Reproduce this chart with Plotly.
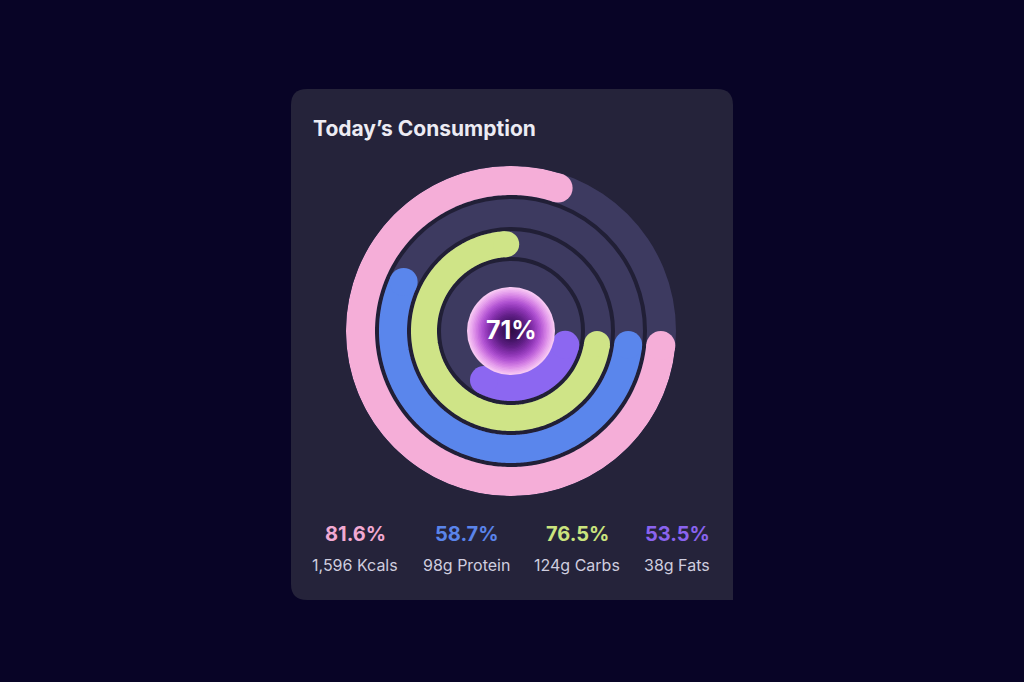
import numpy as np
import plotly.graph_objects as go

# ---------------- data ----------------
categories = ["Kcals", "Protein", "Carbs", "Fats"]
pct_labels = [81.6, 58.7, 76.5, 53.5]          # printed percentages
arc_sweep_pct = [81.6, 58.7, 76.5, 37.0]       # sweep of each ring as drawn in the picture
amount_labels = ["1,596 Kcals", "98g Protein", "124g Carbs", "38g Fats"]
center_value = "71%"
title_text = "Today’s Consumption"

# ---------------- style ----------------
W, H = 1024, 682
BG = "#080426"
CARD = "#25233a"
TRACK = "#3d3a60"
SEP = "#211f36"
ring_colors = ["#f5aed8", "#5a86ec", "#cfe487", "#8c67f1"]
label_colors = ["#f2a9d2", "#5a84ea", "#cbe47e", "#8a63ef"]

CX, CY, R = 511, 331, 165          # ring centre and outer radius (px)
ring_r = [150.5, 118, 87, 56]
ring_w = [29, 28, 26, 28]
sep_r = [134, 102, 72]
FONT = "Inter"

# badge gradient stops (radius px -> colour)
badge_stop_r = [0, 9, 17, 24, 30, 35, 40, 44]
badge_stop_c = ["#2d0c45", "#3f1260", "#621f88", "#8b33b2", "#b052d2", "#d07ae2", "#e9a6ee", "#f7c8f3"]

fig = go.Figure()

for cat, sweep, rr, ww, col in zip(categories, arc_sweep_pct, ring_r, ring_w, ring_colors):
    cap = np.degrees((ww / 2) / rr)
    t0 = 90 + cap
    t1 = 90 + sweep * 3.6 - cap
    th = np.linspace(t0, t1, 300)
    fig.add_trace(go.Scatterpolar(
        r=np.full_like(th, rr), theta=th, mode="lines",
        line=dict(color=col, width=ww), hoverinfo="skip", showlegend=False, name=cat))
    fig.add_trace(go.Scatterpolar(
        r=[rr, rr], theta=[t0, t1], mode="markers",
        marker=dict(color=col, size=ww, line=dict(width=0)),
        hoverinfo="skip", showlegend=False))


def hex2rgb(h):
    h = h.lstrip("#")
    return np.array([int(h[i:i + 2], 16) for i in (0, 2, 4)], dtype=float)


stops_rgb = np.array([hex2rgb(c) for c in badge_stop_c])


def badge_color(rad):
    rgb = [np.interp(rad, badge_stop_r, stops_rgb[:, k]) for k in range(3)]
    return "rgb(%d,%d,%d)" % tuple(int(round(v)) for v in rgb)


# centre badge: concentric discs, large to small
radii = np.arange(44, 0, -1.5)
for i, rad in enumerate(radii):
    inner = radii[i + 1] if i + 1 < len(radii) else 0
    fig.add_trace(go.Scatterpolar(
        r=[0], theta=[0], mode="markers",
        marker=dict(size=2 * rad, color=badge_color(rad),
                    gradient=dict(type="radial", color=badge_color(inner)),
                    line=dict(width=0)),
        hoverinfo="skip", showlegend=False))

fig.update_layout(
    width=W, height=H,
    margin=dict(l=0, r=0, t=0, b=0),
    paper_bgcolor=BG,
    plot_bgcolor=BG,
    polar=dict(
        domain=dict(x=[(CX - R) / W, (CX + R) / W], y=[(H - CY - R) / H, (H - CY + R) / H]),
        bgcolor=TRACK,
        hole=0,
        radialaxis=dict(range=[0, R], tickvals=sep_r, showticklabels=False, ticks="",
                        showline=False, gridcolor=SEP, gridwidth=4, layer="below traces"),
        angularaxis=dict(rotation=90, direction="clockwise", showgrid=False,
                         showline=False, showticklabels=False, ticks=""),
    ),
)

# card with rounded corners (bottom-right square as in reference)
x0, x1, y0, y1, rad = 291, 733, 89, 600, 16


def px(x):
    return x / W


def py(y):
    return 1 - y / H


path = (f"M {px(x0 + rad)},{py(y0)} L {px(x1 - rad)},{py(y0)} "
        f"Q {px(x1)},{py(y0)} {px(x1)},{py(y0 + rad)} "
        f"L {px(x1)},{py(y1)} "
        f"L {px(x0 + rad)},{py(y1)} "
        f"Q {px(x0)},{py(y1)} {px(x0)},{py(y1 - rad)} "
        f"L {px(x0)},{py(y0 + rad)} "
        f"Q {px(x0)},{py(y0)} {px(x0 + rad)},{py(y0)} Z")
fig.add_shape(type="path", path=path, xref="paper", yref="paper",
              fillcolor=CARD, line=dict(width=0), layer="below")

# title
fig.add_annotation(x=px(311), y=py(128), xref="paper", yref="paper", xanchor="left", yanchor="middle",
                   text=title_text, showarrow=False,
                   font=dict(family=FONT, size=21, color="#ecebf3", weight=700))
# centre value
fig.add_annotation(x=px(CX), y=py(330), xref="paper", yref="paper", xanchor="center", yanchor="middle",
                   text=center_value, showarrow=False,
                   font=dict(family=FONT, size=25, color="#ffffff", weight=700))

col_x = [355, 466.5, 577, 677]
for cx, p, amt, lc in zip(col_x, pct_labels, amount_labels, label_colors):
    fig.add_annotation(x=px(cx), y=py(534), xref="paper", yref="paper", xanchor="center", yanchor="middle",
                       text=f"{p:.1f}%", showarrow=False,
                       font=dict(family=FONT, size=20, color=lc, weight=700))
    fig.add_annotation(x=px(cx), y=py(565), xref="paper", yref="paper", xanchor="center", yanchor="middle",
                       text=amt, showarrow=False,
                       font=dict(family=FONT, size=16, color="#cfcddf"))

fig.write_html("out.html")
